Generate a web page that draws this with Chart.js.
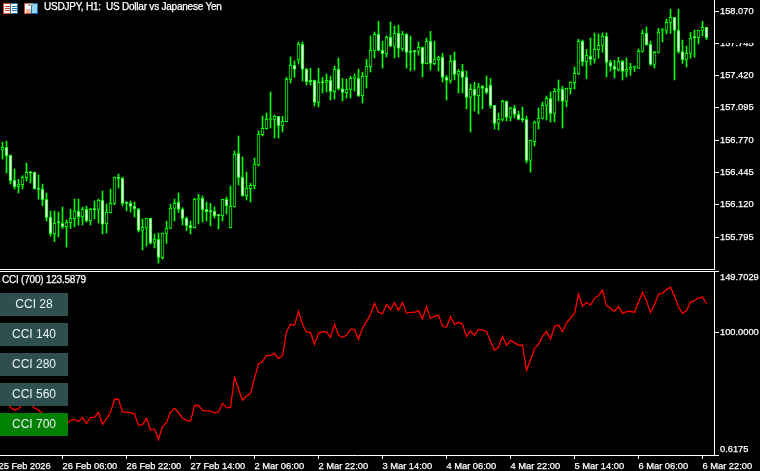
<!DOCTYPE html>
<html>
<head>
<meta charset="utf-8">
<title>USDJPY H1</title>
<script src="https://cdn.jsdelivr.net/npm/chart.js@4"></script>
<style>
  html, body { margin: 0; padding: 0; background: #000; width: 760px; height: 471px; overflow: hidden; }
  canvas { position: absolute; left: 0; }
  #priceChart { top: 0; }
  #cciChart { top: 270px; }
  .label { position: absolute; color: #fff; font: 10px "Liberation Sans", sans-serif; white-space: pre; letter-spacing: -0.22px; -webkit-text-stroke: 0.25px #fff; }
  #paneLine { position: absolute; left: 0; top: 271px; width: 714px; height: 1px; background: #fff; }
  #labelMask { position: absolute; left: 720px; top: 30px; width: 40px; height: 13px; background: #000; }
  .btn { position: absolute; left: 0; width: 68px; height: 23px; line-height: 23px; text-align: center;
         background: #2f4f4f; color: #e8f4f4; font: 12px/23px "Liberation Sans", sans-serif; }
  .btn.on { background: #008000; }
  #icons { position: absolute; left: 3px; top: 3px; }
</style>
</head>
<body>
<canvas id="priceChart" width="760" height="270"></canvas>
<canvas id="cciChart" width="760" height="201"></canvas>
<div id="paneLine"></div>
<div id="labelMask"></div>
<svg id="icons" width="37" height="12" shape-rendering="crispEdges">
  <rect x="0.5" y="0.5" width="14" height="10" fill="#fff" stroke="#d9442e"/>
  <path d="M8 0.5h7M14.5 0v11M8 10.5h7" stroke="#1f6fb0"/>
  <path d="M2 3h5M2 5h5M2 7h5" stroke="#d9442e"/>
  <path d="M9 3h5M9 5h5M9 7h5" stroke="#1f6fb0"/>
  <path d="M7.5 1v9" stroke="#1f6fb0"/>
  <rect x="21.5" y="0.5" width="7" height="10" fill="#fff" stroke="#d9442e"/>
  <rect x="23" y="6" width="5" height="4" fill="#ffb89a"/>
  <rect x="28.5" y="0.5" width="6" height="10" fill="#8fd4f0" stroke="#1f6fb0"/>
  <rect x="25" y="0" width="5" height="3" fill="#aaa"/>
</svg>
<div class="label" style="left:44px;top:1px;">USDJPY, H1:  US Dollar vs Japanese Yen</div>
<div class="label" style="left:2px;top:274px;">CCI (700) 123.5879</div>
<div class="btn" style="top:293px">CCI 28</div>
<div class="btn" style="top:323px">CCI 140</div>
<div class="btn" style="top:353px">CCI 280</div>
<div class="btn" style="top:383px">CCI 560</div>
<div class="btn on" style="top:413px">CCI 700</div>
<script>
// USDJPY H1 candles
const opens = [
  156.671,156.698,156.617,156.365,156.302,156.322,156.392,156.446,156.446,156.284,
  156.275,156.174,155.993,155.828,155.943,155.933,155.899,155.939,155.979,156.053,
  155.999,156.073,155.959,156.073,156.073,156.164,155.929,156.040,156.134,156.396,
  156.386,156.137,156.134,156.104,156.073,155.862,155.892,155.983,155.741,155.771,
  155.587,155.832,155.882,156.083,156.144,156.073,155.983,155.912,155.889,156.174,
  156.184,156.073,156.053,156.053,156.013,156.010,156.174,155.889,156.100,156.637,
  156.396,156.211,156.281,156.312,156.520,156.825,156.886,156.980,156.980,157.010,
  156.916,156.956,157.382,157.523,157.580,157.735,157.483,157.372,157.372,157.151,
  157.352,157.352,157.372,157.258,157.483,157.288,157.248,157.282,157.392,157.392,
  157.218,157.412,157.510,157.674,157.835,157.674,157.641,157.805,157.715,157.845,
  157.691,157.835,157.664,157.664,157.664,157.704,157.540,157.765,157.540,157.580,
  157.604,157.402,157.372,157.574,157.433,157.463,157.402,157.201,157.282,157.218,
  157.312,157.298,157.322,157.120,156.939,156.980,157.161,157.000,157.090,157.030,
  156.980,156.980,156.567,156.755,156.949,156.990,157.120,157.191,157.040,157.261,
  157.282,157.161,157.288,157.349,157.436,157.765,157.560,157.614,157.584,157.681,
  157.725,157.815,157.553,157.513,157.480,157.564,157.463,157.483,157.503,157.493,
  157.664,157.845,157.735,157.533,157.654,157.872,157.876,157.956,158.006,157.876,
  157.661,157.584,157.644,157.805,157.802,157.876,157.906
];
const closes = [
  156.698,156.614,156.362,156.302,156.325,156.396,156.446,156.440,156.281,156.275,
  156.171,155.990,155.828,155.933,155.940,155.899,155.943,155.983,156.057,155.999,
  156.073,155.956,156.073,156.070,156.164,155.922,156.043,156.134,156.396,156.386,
  156.134,156.134,156.104,156.077,155.862,155.892,155.983,155.734,155.771,155.587,
  155.832,155.882,156.083,156.134,156.073,155.983,155.909,155.889,156.174,156.184,
  156.070,156.050,156.050,156.010,156.010,156.174,156.110,156.104,156.627,156.392,
  156.211,156.285,156.315,156.530,156.829,156.889,156.980,156.990,157.010,156.916,
  156.959,157.382,157.523,157.483,157.735,157.483,157.359,157.359,157.151,157.352,
  157.349,157.372,157.261,157.483,157.288,157.251,157.282,157.392,157.402,157.218,
  157.412,157.513,157.674,157.835,157.674,157.641,157.805,157.715,157.845,157.694,
  157.835,157.654,157.654,157.661,157.704,157.540,157.765,157.543,157.580,157.604,
  157.402,157.372,157.564,157.433,157.463,157.402,157.201,157.282,157.221,157.308,
  157.292,157.251,157.117,156.939,156.980,157.161,157.000,157.090,157.030,156.980,
  156.977,156.567,156.768,156.949,156.990,157.120,157.191,157.037,157.261,157.282,
  157.161,157.292,157.355,157.443,157.765,157.560,157.624,157.584,157.684,157.725,
  157.815,157.553,157.513,157.483,157.564,157.463,157.483,157.503,157.506,157.664,
  157.845,157.728,157.533,157.654,157.855,157.876,157.956,158.006,157.876,157.661,
  157.580,157.644,157.795,157.802,157.876,157.906,157.802
];
const highs = [
  156.748,156.761,156.620,156.480,156.376,156.412,156.540,156.456,156.449,156.419,
  156.328,156.238,156.057,156.057,156.047,156.097,155.966,156.073,156.177,156.177,
  156.097,156.107,156.083,156.157,156.177,156.258,156.127,156.278,156.399,156.429,
  156.399,156.151,156.157,156.147,156.083,155.976,155.983,155.986,155.825,155.835,
  155.835,155.953,156.124,156.177,156.238,156.090,155.996,155.956,156.184,156.224,
  156.208,156.147,156.134,156.097,156.023,156.174,156.198,156.308,156.661,156.812,
  156.600,156.449,156.335,156.590,156.862,157.013,157.043,157.255,157.023,157.010,
  157.010,157.402,157.607,157.567,157.758,157.758,157.493,157.493,157.376,157.493,
  157.402,157.436,157.416,157.517,157.597,157.392,157.386,157.412,157.436,157.486,
  157.453,157.584,157.819,157.859,157.966,157.765,157.819,157.960,157.919,157.929,
  157.866,157.845,157.819,157.674,157.758,157.708,157.798,157.866,157.765,157.617,
  157.644,157.423,157.624,157.657,157.483,157.533,157.466,157.335,157.352,157.342,
  157.322,157.416,157.392,157.120,157.043,157.174,157.164,157.104,157.120,157.063,
  157.104,157.013,156.771,156.963,157.094,157.154,157.214,157.255,157.292,157.376,
  157.312,157.295,157.359,157.506,157.785,157.778,157.684,157.798,157.849,157.839,
  157.849,157.849,157.574,157.574,157.604,157.574,157.597,157.543,157.517,157.688,
  157.879,157.909,157.765,157.664,157.896,157.896,157.990,158.087,158.006,158.087,
  157.778,157.715,157.855,157.879,157.876,157.966,157.906
];
const lows = [
  156.580,156.439,156.328,156.278,156.238,156.278,156.359,156.339,156.278,156.177,
  156.110,155.956,155.805,155.748,155.795,155.879,155.694,155.882,155.896,155.916,
  155.916,155.946,155.916,155.976,155.936,155.825,155.835,156.037,156.120,156.288,
  156.107,156.057,156.047,155.996,155.845,155.664,155.704,155.724,155.684,155.533,
  155.573,155.731,155.879,155.956,156.043,155.916,155.859,155.825,155.885,155.926,
  155.946,155.956,155.906,155.986,155.875,155.956,156.027,155.885,156.097,156.318,
  156.204,156.167,156.147,156.278,156.510,156.812,156.882,156.892,156.792,156.792,
  156.852,156.953,157.345,157.402,157.537,157.365,157.325,157.325,157.114,157.104,
  157.245,157.255,157.174,157.184,157.275,157.164,157.194,157.194,157.265,157.208,
  157.144,157.295,157.456,157.597,157.668,157.496,157.607,157.711,157.597,157.607,
  157.668,157.496,157.466,157.476,157.627,157.406,157.537,157.476,157.527,157.466,
  157.355,157.174,157.345,157.376,157.245,157.245,157.084,156.852,157.063,157.033,
  157.084,157.238,157.094,156.882,156.872,156.963,156.963,156.963,156.993,156.973,
  156.953,156.540,156.449,156.711,156.882,156.983,156.973,156.953,156.953,157.164,
  156.892,157.104,157.235,157.285,157.429,157.517,157.389,157.527,157.547,157.594,
  157.654,157.406,157.466,157.396,157.466,157.376,157.406,157.423,157.463,157.490,
  157.654,157.725,157.523,157.496,157.647,157.758,157.839,157.845,157.376,157.644,
  157.543,157.506,157.594,157.607,157.738,157.819,157.782
];
// CCI (700), one value per candle
const cciValues = [
  46.7,44.0,39.4,37.2,38.3,42.6,44.0,42.6,38.6,37.2,
  34.5,30.4,27.7,25.0,26.4,26.4,25.6,28.8,29.6,27.7,
  31.2,26.1,31.2,31.2,35.3,25.6,29.9,35.3,45.9,45.9,
  35.6,35.3,35.0,33.9,24.7,25.3,30.4,20.9,21.8,13.1,
  23.7,26.9,35.3,38.6,35.0,30.7,28.8,28.0,40.7,41.0,
  36.9,36.4,36.4,34.8,35.6,42.6,39.1,39.1,63.7,54.3,
  45.1,48.6,50.7,62.9,74.6,76.7,81.6,81.3,83.2,78.9,
  81.3,100.8,106.8,106.0,117.4,106.8,100.6,100.0,90.5,99.5,
  100.8,100.6,96.2,106.8,97.9,96.2,97.9,102.7,102.7,94.6,
  103.5,109.0,114.9,123.9,116.5,115.2,123.0,118.7,124.4,118.2,
  124.7,115.7,116.5,116.5,117.9,111.1,121.4,111.4,113.3,114.1,
  105.4,104.4,113.0,106.8,108.4,106.8,97.0,101.4,97.9,102.7,
  102.2,100.8,93.3,85.7,88.1,97.0,89.7,93.8,91.9,89.7,
  90.0,69.4,77.8,87.3,90.5,97.0,101.1,94.6,105.2,106.3,
  100.8,107.9,111.7,115.7,131.4,121.4,124.7,122.5,127.9,130.1,
  134.4,122.0,119.8,117.4,121.4,115.7,117.1,117.4,116.5,124.7,
  132.8,125.8,116.5,123.0,131.4,132.0,135.2,136.9,129.5,120.6,
  115.7,117.9,124.7,126.0,128.2,129.0,123.59
];
const priceTicks = [158.07, 157.745, 157.42, 157.095, 156.77, 156.445, 156.12, 155.795];
const cciTicks = [149.7029, 100, 0.6175];
const cciTickLabels = [['', '149.7029'], '100.0000', ['0.6175', '']];
const timeIdx = [-1, 15, 31, 47, 63, 79, 95, 111, 127, 143, 159, 175];
const timeLabels = ['25 Feb 2026', '26 Feb 06:00', '26 Feb 22:00', '27 Feb 14:00', '2 Mar 06:00', '2 Mar 22:00',
  '3 Mar 14:00', '4 Mar 06:00', '4 Mar 22:00', '5 Mar 14:00', '6 Mar 06:00', '6 Mar 22:00'];

const GREEN = '#00ff00';
const AXIS_FONT = { family: '"Liberation Sans", sans-serif', size: 9.3, lineHeight: 1.2 };
// 4px per bar, first candle centred on x = 2.5
const xRange = { min: -0.625, max: 177.875 };

Chart.defaults.animation = false;
Chart.defaults.responsive = false;
Chart.defaults.plugins.legend.display = false;
Chart.defaults.plugins.tooltip.enabled = false;
Chart.defaults.color = '#fff';

// keep the plot area where the screenshot has it, whatever the labels overhang
function noOverhang(s) {
  s.paddingLeft = s.paddingRight = s.paddingTop = s.paddingBottom = 0;
}

function rightAxis(min, max, ticks, labelFn) {
  return {
    position: 'right', min: min, max: max,
    afterBuildTicks: s => { s.ticks = ticks.map(v => ({ value: v })); },
    afterFit: s => { s.width = 46; noOverhang(s); },
    border: { color: '#fff' },
    grid: { drawOnChartArea: false, tickColor: '#fff', tickLength: 5 },
    ticks: { font: AXIS_FONT, padding: 1, color: '#fff', textStrokeColor: '#fff', textStrokeWidth: 0.25,
      autoSkip: false, callback: labelFn }
  };
}

// Price pane
new Chart(document.getElementById('priceChart'), {
  type: 'bar',
  data: {
    datasets: [{
      label: 'wick',
      data: highs.map((h, i) => ({ x: i, y: [lows[i], h] })),
      backgroundColor: GREEN,
      barThickness: 1,
      grouped: false,
      order: 2
    }, {
      label: 'body',
      data: opens.map((o, i) => ({ x: i, y: [o, closes[i]] })),
      backgroundColor: opens.map((o, i) => closes[i] < o ? '#fff' : '#000'),
      borderColor: GREEN,
      borderWidth: 1,
      borderSkipped: false,
      barThickness: 3,
      minBarLength: 1,
      grouped: false,
      order: 1
    }]
  },
  options: {
    layout: { padding: 0 },
    scales: {
      x: {
        type: 'linear', min: xRange.min, max: xRange.max, offset: false,
        afterFit: s => { s.height = 1; noOverhang(s); },
        border: { color: '#fff' },
        grid: { display: false, offset: false },
        ticks: { display: false }
      },
      y: rightAxis(155.473, 158.181, priceTicks, v => v.toFixed(3))
    }
  }
});

// CCI pane
new Chart(document.getElementById('cciChart'), {
  type: 'line',
  data: {
    datasets: [{
      label: 'CCI (700)',
      data: cciValues.map((v, i) => ({ x: i, y: v })),
      borderColor: '#ff0000',
      borderWidth: 1.3,
      pointRadius: 0,
      tension: 0
    }]
  },
  options: {
    layout: { padding: { top: 1.5 } },
    scales: {
      x: {
        type: 'linear', min: xRange.min, max: xRange.max,
        afterBuildTicks: s => { s.ticks = timeIdx.map(v => ({ value: v })); },
        afterFit: s => { s.height = 16; noOverhang(s); },
        border: { color: '#fff' },
        grid: { drawOnChartArea: false, tickColor: '#fff', tickLength: 4 },
        ticks: {
          font: AXIS_FONT, color: '#fff', textStrokeColor: '#fff', textStrokeWidth: 0.25,
          align: 'start', padding: 2, autoSkip: false, maxRotation: 0, minRotation: 0,
          callback: (v, i) => timeLabels[i]
        }
      },
      y: rightAxis(0.6175, 149.7029, cciTicks, (v, i) => cciTickLabels[i])
    }
  }
});
</script>
</body>
</html>
